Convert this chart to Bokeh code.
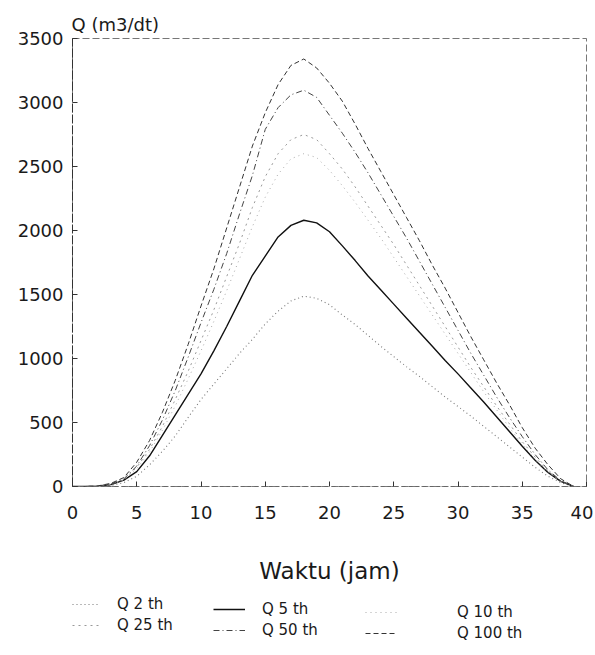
from bokeh.plotting import figure
from bokeh.layouts import column
from bokeh.models import Legend, LegendItem, FixedTicker, Range1d
from bokeh.embed import file_html
from bokeh.resources import INLINE

# ---- data ----
t_jam = list(range(0, 40))

q2 = [0, 0, 2, 8, 30, 80, 170, 275, 395, 540, 680, 800, 920, 1040, 1150, 1270,
      1370, 1450, 1487, 1470, 1420, 1340, 1265, 1180, 1095, 1015, 935, 860, 780,
      700, 625, 550, 470, 390, 310, 230, 150, 80, 30, 0]
q5 = [0, 0, 3, 15, 50, 116, 240, 400, 560, 720, 880, 1060, 1250, 1450, 1650, 1800,
      1950, 2040, 2080, 2060, 1990, 1880, 1765, 1645, 1535, 1425, 1315, 1205, 1095,
      985, 880, 770, 660, 545, 430, 315, 205, 110, 40, 0]
q10 = [0, 0, 3, 16, 50, 140, 270, 440, 630, 840, 1060, 1290, 1530, 1780, 2030, 2260,
       2440, 2560, 2600, 2570, 2470, 2350, 2220, 2080, 1940, 1790, 1640, 1490, 1340,
       1190, 1040, 890, 740, 600, 460, 330, 210, 110, 40, 0]
q25 = [0, 0, 4, 18, 55, 150, 290, 470, 680, 900, 1140, 1380, 1640, 1900, 2180, 2420,
       2600, 2710, 2750, 2710, 2600, 2480, 2340, 2190, 2040, 1890, 1730, 1570, 1410,
       1250, 1090, 930, 780, 630, 490, 350, 230, 120, 40, 0]
q50 = [0, 0, 4, 20, 60, 160, 320, 520, 750, 1010, 1280, 1540, 1820, 2130, 2430, 2790,
       2960, 3060, 3096, 3040, 2900, 2760, 2610, 2450, 2280, 2110, 1940, 1760, 1580,
       1400, 1220, 1040, 870, 700, 540, 390, 250, 130, 45, 0]
q100 = [0, 0, 5, 25, 70, 190, 360, 580, 830, 1110, 1410, 1700, 2020, 2340, 2660, 2920,
        3140, 3290, 3340, 3270, 3150, 3010, 2830, 2640, 2460, 2280, 2100, 1920, 1730,
        1550, 1360, 1170, 990, 810, 640, 460, 300, 170, 60, 0]

series_labels = ["Q 2 th", "Q 5 th", "Q 10 th", "Q 25 th", "Q 50 th", "Q 100 th"]
x_ticks = [0, 5, 10, 15, 20, 25, 30, 35, 40]
y_ticks = [0, 500, 1000, 1500, 2000, 2500, 3000, 3500]

FONT = "DejaVu Sans"

styles = {
    "Q 2 th": dict(line_color="#777777", line_width=1.1, line_dash="1 3"),
    "Q 5 th": dict(line_color="#111111", line_width=1.4, line_dash="solid"),
    "Q 10 th": dict(line_color="#aaaaaa", line_width=1.0, line_dash="1 4"),
    "Q 25 th": dict(line_color="#999999", line_width=1.0, line_dash="2 4"),
    "Q 50 th": dict(line_color="#444444", line_width=1.0, line_dash="6 3 1 3"),
    "Q 100 th": dict(line_color="#333333", line_width=1.0, line_dash="5 3"),
}
series = dict(zip(series_labels, [q2, q5, q10, q25, q50, q100]))

p = figure(frame_width=514, frame_height=448, output_backend="svg",
           toolbar_location=None,
           x_range=Range1d(0, 40), y_range=Range1d(0, 3500),
           min_border_left=72, min_border_right=7, min_border_top=38,
           min_border_bottom=106)

p.background_fill_color = "white"
p.border_fill_color = "white"
p.xgrid.grid_line_color = None
p.ygrid.grid_line_color = None
p.outline_line_color = "#555555"
p.outline_line_dash = "7 3"
p.outline_line_alpha = 0.8

p.title.text = "Q (m3/dt)"
p.title.text_font = FONT
p.title.text_font_size = "18px"
p.title.text_font_style = "normal"
p.title.text_color = "#1a1a1a"
p.title.align = "left"
p.title.standoff = 8
p.title.offset = -1

for ax in (p.xaxis[0], p.yaxis[0]):
    ax.major_tick_in = 5
    ax.major_tick_out = 0
    ax.minor_tick_line_color = None
    ax.major_label_text_font = FONT
    ax.major_label_text_font_size = "18px"
    ax.major_label_text_color = "#1a1a1a"
    ax.major_tick_line_color = "#333333"

p.xaxis.ticker = FixedTicker(ticks=x_ticks)
p.yaxis.ticker = FixedTicker(ticks=y_ticks)
p.xaxis.major_label_standoff = 19
p.yaxis.major_label_standoff = 9
p.xaxis.axis_line_color = "#666666"
p.xaxis.axis_line_dash = "4 3"
p.yaxis.axis_line_color = "#333333"
p.yaxis.axis_line_dash = "9 2"

p.xaxis.axis_label = "Waktu (jam)"
p.xaxis.axis_label_text_font = FONT
p.xaxis.axis_label_text_font_size = "23px"
p.xaxis.axis_label_text_font_style = "normal"
p.xaxis.axis_label_text_color = "#1a1a1a"
p.xaxis.axis_label_standoff = 36

for lab in series_labels:
    p.line(t_jam, series[lab], **styles[lab])

# ---- legend strip below the chart (its frame aligns with the chart frame) ----
lg_fig = figure(width=593, height=60, output_backend="svg", toolbar_location=None,
                x_range=Range1d(0, 1), y_range=Range1d(-2, -1),
                x_axis_type=None, y_axis_type=None,
                min_border_left=72, min_border_right=7,
                min_border_top=0, min_border_bottom=0)
lg_fig.outline_line_color = None
lg_fig.xgrid.grid_line_color = None
lg_fig.ygrid.grid_line_color = None
lg_fig.background_fill_color = "white"
lg_fig.border_fill_color = "white"

# legend-key renderers (their lines fall outside this strip's visible range)
keys = {lab: lg_fig.line(t_jam, series[lab], **styles[lab]) for lab in series_labels}

def make_legend(labels, loc, gw, standoff):
    return Legend(items=[LegendItem(label=l, renderers=[keys[l]]) for l in labels],
                  location=loc, orientation="vertical",
                  glyph_width=gw, glyph_height=14, label_height=14, spacing=3,
                  padding=0, margin=0, border_line_color=None,
                  background_fill_alpha=0, label_standoff=standoff,
                  label_text_font=FONT, label_text_font_size="15px",
                  label_text_color="#1a1a1a")

lg_fig.add_layout(make_legend(["Q 2 th", "Q 25 th"], (0, 18), 28, 17))
lg_fig.add_layout(make_legend(["Q 5 th", "Q 50 th"], (141, 13), 32, 17))
lg_fig.add_layout(make_legend(["Q 10 th", "Q 100 th"], (293, 10), 32, 60))

layout = column(p, lg_fig, spacing=0)
open("out.html", "w").write(file_html(layout, INLINE))
